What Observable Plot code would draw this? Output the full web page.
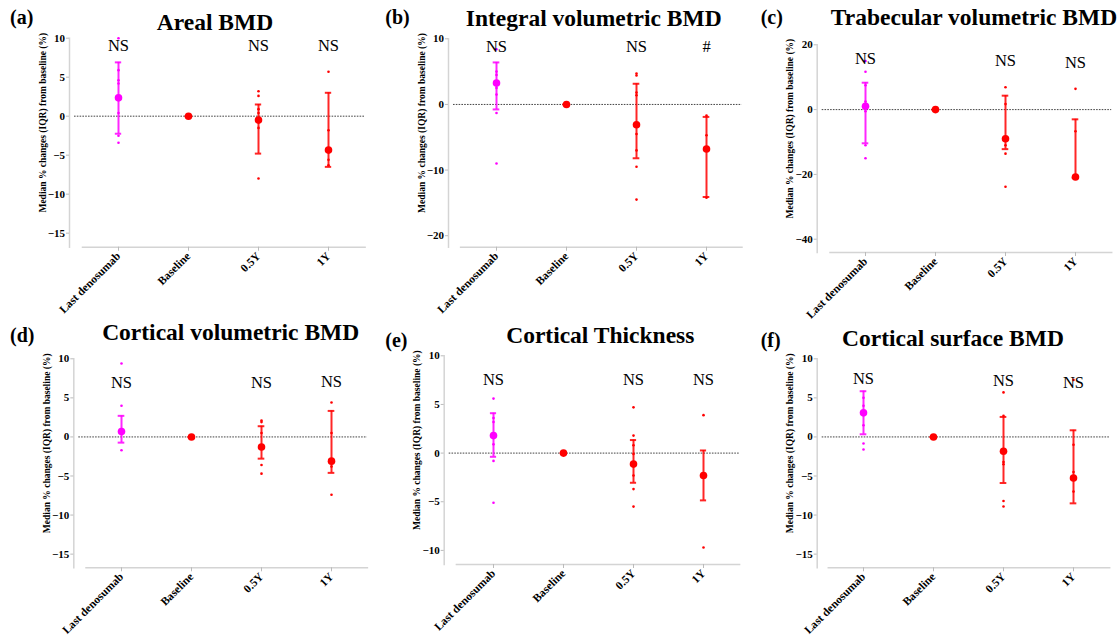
<!DOCTYPE html>
<html><head><meta charset="utf-8">
<script src="https://cdn.jsdelivr.net/npm/d3@7"></script>
<script src="https://cdn.jsdelivr.net/npm/@observablehq/plot@0.6"></script>
<style>
html,body{margin:0;padding:0;background:#fff;}
body{width:1117px;height:639px;position:relative;overflow:hidden;font-family:"Liberation Serif","Times New Roman",serif;color:#000;}
.panel{position:absolute;}
.lab{position:absolute;font-weight:bold;font-size:20px;line-height:1;white-space:nowrap;}
.title{position:absolute;font-weight:bold;font-size:23.5px;line-height:1;white-space:nowrap;transform:translateX(-50%);}
</style>
</head><body>
<script>
// ---------- shared categories / labels ----------
const timepoints = ["Last denosumab", "Baseline", "0.5Y", "1Y"];
const pointColors = ["#ff00ff", "#ff0000", "#ff0000", "#ff0000"];
const panelLetters = ["(a)", "(b)", "(c)", "(d)", "(e)", "(f)"];
const panelTitles = ["Areal BMD", "Integral volumetric BMD", "Trabecular volumetric BMD",
  "Cortical volumetric BMD", "Cortical Thickness", "Cortical surface BMD"];
const yAxisTitle = "Median % changes (IQR) from baseline (%)";

// ---------- (a) Areal BMD ----------
const arealMedian = [2.35, 0, -0.5, -4.35];
const arealQ1 = [-2.25, 0, -4.8, -6.5];
const arealQ3 = [6.9, 0, 1.5, 3.0];
const arealPtsLD = [10, 5.9, 4.6, 4.2, 0.4, -2.5, -3.4];
const arealPts05 = [3.2, 2.6, 0.9, 0.4, -1.5, -8.0];
const arealPts1Y = [5.7, -1.8, -5.6, -6.3];
const arealSig = ["NS", "", "NS", "NS"];
const arealSigY = [9.0, 0, 9.0, 9.0];
const arealTicks = [10, 5, 0, -5, -10, -15];

// ---------- (b) Integral volumetric BMD ----------
const integralMedian = [3.25, 0, -3.1, -6.8];
const integralQ1 = [-0.76, 0, -8.2, -14.1];
const integralQ3 = [6.4, 0, 3.15, -1.9];
const integralPtsLD = [8.4, 5.0, 4.5, 3.5, 2.5, 1.5, -1.3, -9.0];
const integralPts05 = [4.7, 4.4, 1.8, 1.4, -4.5, -7.0, -9.5, -14.5];
const integralPts1Y = [-1.7, -4.7, -14.2];
const integralSig = ["NS", "", "NS", "#"];
const integralSigY = [8.75, 0, 8.75, 8.75];
const integralTicks = [10, 0, -10, -20];

// ---------- (c) Trabecular volumetric BMD ----------
const trabMedian = [1.0, 0, -9.0, -20.8];
const trabQ1 = [-10.4, 0, -12.2, -21.0];
const trabQ3 = [8.3, 0, 4.3, -3.0];
const trabPtsLD = [15, 11.7, 7.5, 2.5, -0.5, -11, -15];
const trabPts05 = [6.9, 1.7, -11, -13.6, -23.8];
const trabPts1Y = [6.4, -6.7, -20.5, -21];
const trabSig = ["NS", "", "NS", "NS"];
const trabSigY = [15.8, 0, 15.1, 14.5];
const trabTicks = [20, 0, -20, -40];

// ---------- (d) Cortical volumetric BMD ----------
const cortvMedian = [0.68, 0, -1.28, -3.1];
const cortvQ1 = [-0.73, 0, -2.78, -4.6];
const cortvQ3 = [2.7, 0, 1.37, 3.33];
const cortvPtsLD = [9.4, 4.0, 1.0, -1.7];
const cortvPts05 = [2.1, 1.9, 0.5, -3.6, -4.7];
const cortvPts1Y = [4.4, 0.5, -3.8, -7.4];
const cortvSig = ["NS", "", "NS", "NS"];
const cortvSigY = [7.0, 0, 7.0, 7.05];
const cortvTicks = [10, 5, 0, -5, -10, -15];

// ---------- (e) Cortical Thickness ----------
const thickMedian = [1.8, 0, -1.13, -2.3];
const thickQ1 = [-0.38, 0, -3.05, -4.86];
const thickQ3 = [4.1, 0, 1.34, 0.27];
const thickPtsLD = [5.6, 3.6, 3.2, 2.0, 0.9, -0.8, -5.1];
const thickPts05 = [4.7, 1.8, 0.8, -0.1, -2.3, -3.7, -5.5];
const thickPts1Y = [3.9, -2.3, -9.7];
const thickSig = ["NS", "", "NS", "NS"];
const thickSigY = [7.5, 0, 7.5, 7.5];
const thickTicks = [10, 5, 0, -5, -10];

// ---------- (f) Cortical surface BMD ----------
const surfMedian = [3.08, 0, -1.84, -5.26];
const surfQ1 = [0.34, 0, -5.9, -8.5];
const surfQ3 = [5.85, 0, 2.56, 0.85];
const surfPtsLD = [5.0, 4.0, 1.5, -0.85, -1.6];
const surfPts05 = [5.7, 2.7, -3.2, -3.5, -8.2, -8.9];
const surfPts1Y = [7.3, -1.0, -4.5, -7.0];
const surfSig = ["NS", "", "NS", "NS"];
const surfSigY = [7.4, 0, 7.18, 6.97];
const surfTicks = [10, 5, 0, -5, -10, -15];

// ---------- layout (positions only) ----------
const layouts = [
  {left: 0,   top: 0,   w: 372, mL: 69,   inL: 13,   mR: 7.4, mT: 37.7, axisY: 246.7, dom: [-16.8, 10],
   letter: [10, 6.6], title: [215, 11]},
  {left: 372, top: 0,   w: 372, mL: 76,   inL: 12.1, mR: 2.5, mT: 38.3, axisY: 246.7, dom: [-21.75, 10],
   letter: [385.3, 7], title: [593.7, 7]},
  {left: 744, top: 0,   w: 373, mL: 72.7, inL: 12.8, mR: 5.8, mT: 44.3, axisY: 252,   dom: [-44.1, 20],
   letter: [760.7, 7.3], title: [974, 6.3]},
  {left: 0,   top: 320, w: 372, mL: 73.3, inL: 12.2, mR: 5.1, mT: 38.3, axisY: 247.3, dom: [-16.75, 10],
   letter: [10, 325], title: [230.7, 321]},
  {left: 372, top: 320, w: 372, mL: 71.7, inL: 12.2, mR: 4.9, mT: 35.3, axisY: 244,   dom: [-11.45, 10],
   letter: [385.3, 330], title: [600.3, 324.3]},
  {left: 744, top: 320, w: 373, mL: 72.7, inL: 11.1, mR: 7.8, mT: 38.3, axisY: 247.3, dom: [-16.75, 10],
   letter: [760.7, 330], title: [953, 327]}
];

const panelData = [
  [arealMedian, arealQ1, arealQ3, [arealPtsLD, [], arealPts05, arealPts1Y], arealSig, arealSigY, arealTicks],
  [integralMedian, integralQ1, integralQ3, [integralPtsLD, [], integralPts05, integralPts1Y], integralSig, integralSigY, integralTicks],
  [trabMedian, trabQ1, trabQ3, [trabPtsLD, [], trabPts05, trabPts1Y], trabSig, trabSigY, trabTicks],
  [cortvMedian, cortvQ1, cortvQ3, [cortvPtsLD, [], cortvPts05, cortvPts1Y], cortvSig, cortvSigY, cortvTicks],
  [thickMedian, thickQ1, thickQ3, [thickPtsLD, [], thickPts05, thickPts1Y], thickSig, thickSigY, thickTicks],
  [surfMedian, surfQ1, surfQ3, [surfPtsLD, [], surfPts05, surfPts1Y], surfSig, surfSigY, surfTicks]
];

const H = 320;
const capWidth = 7;

panelData.forEach(([med, q1, q3, pts, sig, sigY, ticks], i) => {
  const L = layouts[i];
  const summary = timepoints.map((t, k) => ({t, median: med[k], q1: q1[k], q3: q3[k], color: pointColors[k]}));
  const points = timepoints.flatMap((t, k) => pts[k].map(v => ({t, v, color: pointColors[k]})));
  const sigs = timepoints.map((t, k) => ({t, s: sig[k], y: sigY[k]})).filter(d => d.s);
  const bandW = (L.w - L.mL - L.inL - L.mR) / timepoints.length;
  const capInset = (bandW - capWidth) / 2;

  const chart = Plot.plot({
    width: L.w,
    height: H,
    marginLeft: L.mL,
    marginRight: L.mR,
    marginTop: L.mT,
    marginBottom: H - L.axisY,
    style: {fontFamily: "'Liberation Serif','Times New Roman',serif", fontWeight: "bold", fontSize: "11px", color: "#000", background: "transparent", overflow: "visible"},
    x: {type: "band", domain: timepoints, padding: 0, insetLeft: L.inL},
    y: {domain: L.dom},
    marks: [
      Plot.frame({anchor: "left", stroke: "#d4d4d4", strokeWidth: 1.5}),
      Plot.frame({anchor: "bottom", stroke: "#d4d4d4", strokeWidth: 1.5, insetLeft: L.inL}),
      Plot.axisY({ticks, tickSize: 3, tickPadding: 1.5, stroke: "#bbb", label: null, fontSize: 11, fontWeight: "bold"}),
      Plot.axisX({tickSize: 4, tickPadding: 3, tickRotate: -45, stroke: "#bbb", label: null, fontSize: 11.5, fontWeight: "bold"}),
      Plot.ruleY([0], {insetLeft: 5, stroke: "#444", strokeWidth: 1, strokeDasharray: "1.6,1.2"}),
      Plot.ruleX(summary, {x: "t", y1: "q1", y2: "q3", stroke: "color", strokeWidth: 2, strokeOpacity: 0.85}),
      Plot.tickY(summary, {x: "t", y: "q1", stroke: "color", strokeWidth: 2, strokeOpacity: 0.85, insetLeft: capInset, insetRight: capInset}),
      Plot.tickY(summary, {x: "t", y: "q3", stroke: "color", strokeWidth: 2, strokeOpacity: 0.85, insetLeft: capInset, insetRight: capInset}),
      Plot.dot(points, {x: "t", y: "v", r: 1.3, fill: "color", stroke: null}),
      Plot.dot(summary, {x: "t", y: "median", r: 3.8, fill: "color", stroke: null}),
      Plot.text(sigs, {x: "t", y: "y", text: "s", fontSize: 16.5, fontWeight: "normal", fill: "#000"}),
      Plot.text([yAxisTitle], {frameAnchor: "left", textAnchor: "middle", rotate: -90, dx: -27, dy: -20, fontSize: 9.5, fontWeight: "bold", fill: "#000"})
    ],
    color: {type: "identity"}
  });

  const wrap = document.createElement("div");
  wrap.className = "panel";
  wrap.style.left = L.left + "px";
  wrap.style.top = L.top + "px";
  wrap.appendChild(chart);
  document.body.appendChild(wrap);

  const letter = document.createElement("div");
  letter.className = "lab";
  letter.textContent = panelLetters[i];
  letter.style.left = L.letter[0] + "px";
  letter.style.top = L.letter[1] + "px";
  document.body.appendChild(letter);

  const title = document.createElement("div");
  title.className = "title";
  title.textContent = panelTitles[i];
  title.style.left = L.title[0] + "px";
  title.style.top = L.title[1] + "px";
  document.body.appendChild(title);
});
</script>
</body></html>
